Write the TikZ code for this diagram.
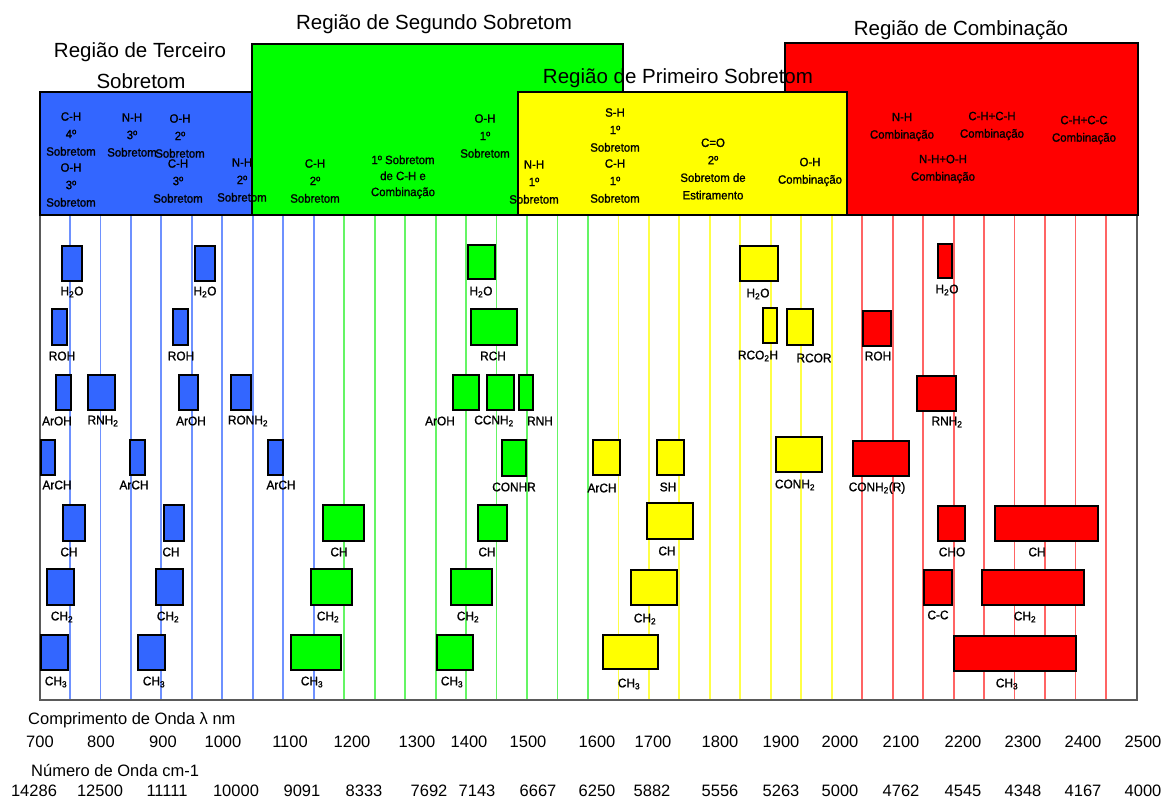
\documentclass[tikz,border=0pt]{standalone}
\usepackage{fontspec}
\setmainfont{Liberation Sans}
\newfontfamily\labf[FakeBold=1.2,FakeStretch=0.95]{Liberation Sans}
\definecolor{cblue}{RGB}{51,102,255}
\definecolor{cgreen}{RGB}{0,255,0}
\definecolor{cyellow}{RGB}{255,255,0}
\definecolor{cred}{RGB}{255,0,0}
\definecolor{gblue}{RGB}{110,145,255}
\definecolor{ggreen}{RGB}{100,245,100}
\definecolor{gyellow}{RGB}{255,255,70}
\definecolor{gred}{RGB}{255,100,100}
\definecolor{framec}{RGB}{90,90,90}
\begin{document}
\begin{tikzpicture}[x=1pt,y=-1pt,
  hdr/.style={draw=black,line width=1.4pt},
  bx/.style={draw=black,line width=1.3pt},
  grid/.style={line width=1.8pt},
  lab/.style={inner sep=0pt,font=\labf\fontsize{12.5}{14}\selectfont},
  htx/.style={inner sep=0pt,align=center,font=\labf\fontsize{12}{17.5}\selectfont},
  ttl/.style={inner sep=0pt,font=\fontsize{20.5}{24}\selectfont},
  axt/.style={inner sep=0pt,font=\fontsize{16.5}{20}\selectfont}]
\useasboundingbox (0,0) rectangle (1169,801);
\fill[white] (0,0) rectangle (1169,801);
% grid lines
\foreach \n in {750,800,...,1150} \draw[grid,gblue] ({39.5+(\n-700)*0.6094},215) -- ({39.5+(\n-700)*0.6094},700);
\foreach \n in {1200,1250,...,1600} \draw[grid,ggreen] ({39.5+(\n-700)*0.6094},215) -- ({39.5+(\n-700)*0.6094},700);
\foreach \n in {1650,1700,...,2000} \draw[grid,gyellow] ({39.5+(\n-700)*0.6094},215) -- ({39.5+(\n-700)*0.6094},700);
\foreach \n in {2050,2100,...,2450} \draw[grid,gred] ({39.5+(\n-700)*0.6094},215) -- ({39.5+(\n-700)*0.6094},700);
% frame
\draw[framec,line width=2pt] (40,215) -- (40,700) -- (1137,700) -- (1137,215);
% header boxes
\draw[hdr,fill=cblue] (40,92) rectangle (252,215);
\draw[hdr,fill=cgreen] (252,44) rectangle (623,215);
\draw[hdr,fill=cred] (785,43) rectangle (1138,215);
\draw[hdr,fill=cyellow] (518,92) rectangle (847,215);
% titles
\node[ttl] (t3a) at (140,52) {Região de Terceiro};
\node[ttl] (t3b) at (141,81) {Sobretom};
\node[ttl] (t2) at (434,24) {Região de Segundo Sobretom};
\node[ttl] (t1) at (678,78) {Região de Primeiro Sobretom};
\node[ttl] (tc) at (961,30) {Região de Combinação};
% header texts - blue
\node[htx] (hb1) at (71,134) {C-H\\4º\\Sobretom};
\node[htx] (hb2) at (71,185) {O-H\\3º\\Sobretom};
\node[htx] (hb3) at (132,135) {N-H\\3º\\Sobretom};
\node[htx] (hb4) at (180,136) {O-H\\2º\\Sobretom};
\node[htx] (hb5) at (178,181) {C-H\\3º\\Sobretom};
\node[htx] (hb6) at (242,180) {N-H\\2º\\Sobretom};
% green
\node[htx] (hg1) at (315,181) {C-H\\2º\\Sobretom};
\node[htx,font=\labf\fontsize{12}{16}\selectfont] (hg2) at (403,177) {1º Sobretom\\de C-H e\\Combinação};
\node[htx] (hg3) at (485,136) {O-H\\1º\\Sobretom};
% yellow
\node[htx] (hy1) at (534,182) {N-H\\1º\\Sobretom};
\node[htx] (hy2) at (615,130) {S-H\\1º\\Sobretom};
\node[htx] (hy3) at (615,181) {C-H\\1º\\Sobretom};
\node[htx] (hy4) at (713,169) {C=O\\2º\\Sobretom de\\Estiramento};
\node[htx] (hy5) at (810,172) {O-H\\Combinação};
% red
\node[htx] (hr1) at (902,127) {N-H\\Combinação};
\node[htx] (hr2) at (992,126) {C-H+C-H\\Combinação};
\node[htx] (hr3) at (1084,130) {C-H+C-C\\Combinação};
\node[htx] (hr4) at (943,169) {N-H+O-H\\Combinação};
% boxes: blue
\foreach \xa/\xb/\ya/\yb/\lx/\ly/\t in {
 62/82/246/281/72/292/H\textsubscript{2}O,
 195/215/246/281/205/292/H\textsubscript{2}O,
 52/67/309/345/62/356/ROH,
 173/188/309/345/181/356/ROH,
 56/71/375/410/57/421/ArOH,
 88/115/375/410/103/421/RNH\textsubscript{2},
 179/198/375/410/191/421/ArOH,
 231/251/375/410/248/421/RONH\textsubscript{2},
 41/55/440/475/57/485/ArCH,
 130/145/440/475/134/485/ArCH,
 268/283/440/475/281/485/ArCH,
 63/85/505/541/69/552/CH,
 164/184/505/541/171/552/CH,
 47/74/569/605/62/617/CH\textsubscript{2},
 156/183/569/605/168/617/CH\textsubscript{2},
 41/68/635/670/56/682/CH\textsubscript{3},
 138/165/635/670/154/682/CH\textsubscript{3}}
{\draw[bx,fill=cblue] (\xa,\ya) rectangle (\xb,\yb); \node[lab] at (\lx,\ly) {\t};}
% green
\foreach \xa/\xb/\ya/\yb/\lx/\ly/\t in {
 468/495/245/279/481/292/H\textsubscript{2}O,
 471/517/309/345/493/356/RCH,
 453/479/375/410/440/421/ArOH,
 487/514/375/410/494/421/CCNH\textsubscript{2},
 519/533/375/410/540/421/RNH,
 502/526/440/476/514/487/CONHR,
 323/364/505/541/339/552/CH,
 478/507/505/541/487/552/CH,
 311/352/569/605/328/617/CH\textsubscript{2},
 451/492/569/605/468/617/CH\textsubscript{2},
 291/341/635/670/312/682/CH\textsubscript{3},
 437/473/635/670/452/682/CH\textsubscript{3}}
{\draw[bx,fill=cgreen] (\xa,\ya) rectangle (\xb,\yb); \node[lab] at (\lx,\ly) {\t};}
% yellow
\foreach \xa/\xb/\ya/\yb/\lx/\ly/\t in {
 740/778/246/281/758/294/H\textsubscript{2}O,
 763/777/308/343/758/356/RCO\textsubscript{2}H,
 787/813/309/345/814/358/RCOR,
 593/620/440/475/602/488/ArCH,
 657/684/440/475/668/487/SH,
 776/822/437/472/795/485/CONH\textsubscript{2},
 647/693/503/539/667/551/CH,
 631/677/570/605/645/619/CH\textsubscript{2},
 603/658/635/669/629/684/CH\textsubscript{3}}
{\draw[bx,fill=cyellow] (\xa,\ya) rectangle (\xb,\yb); \node[lab] at (\lx,\ly) {\t};}
% red
\foreach \xa/\xb/\ya/\yb/\lx/\ly/\t in {
 938/952/244/278/947/290/H\textsubscript{2}O,
 863/891/311/346/878/356/ROH,
 917/956/376/411/947/422/RNH\textsubscript{2},
 853/909/441/476/877/488/CONH\textsubscript{2}(R),
 938/965/506/541/952/552/CHO,
 995/1098/506/541/1037/552/CH,
 924/952/570/605/938/615/C-C,
 982/1084/570/605/1025/617/CH\textsubscript{2},
 954/1076/636/671/1007/684/CH\textsubscript{3}}
{\draw[bx,fill=cred] (\xa,\ya) rectangle (\xb,\yb); \node[lab] at (\lx,\ly) {\t};}
% axes text
\node[axt,anchor=west] (axl) at (28,720) {Comprimento de Onda λ nm};
\node[axt,anchor=west] (axw) at (31,770) {Número de Onda cm-1};
\foreach \x/\t in {40/700,101/800,163/900,223/1000,290/1100,352/1200,417/1300,469/1400,528/1500,597/1600,653/1700,720/1800,781/1900,840/2000,901/2100,963/2200,1023/2300,1083/2400,1143/2500}
 \node[axt] at (\x,742) {\t};
\foreach \x/\t in {34/14286,100/12500,167/11111,236/10000,302/9091,364/8333,429/7692,477/7143,538/6667,597/6250,652/5882,720/5556,781/5263,840/5000,901/4762,963/4545,1023/4348,1083/4167,1143/4000}
 \node[axt] at (\x,791) {\t};
\end{tikzpicture}
\end{document}
